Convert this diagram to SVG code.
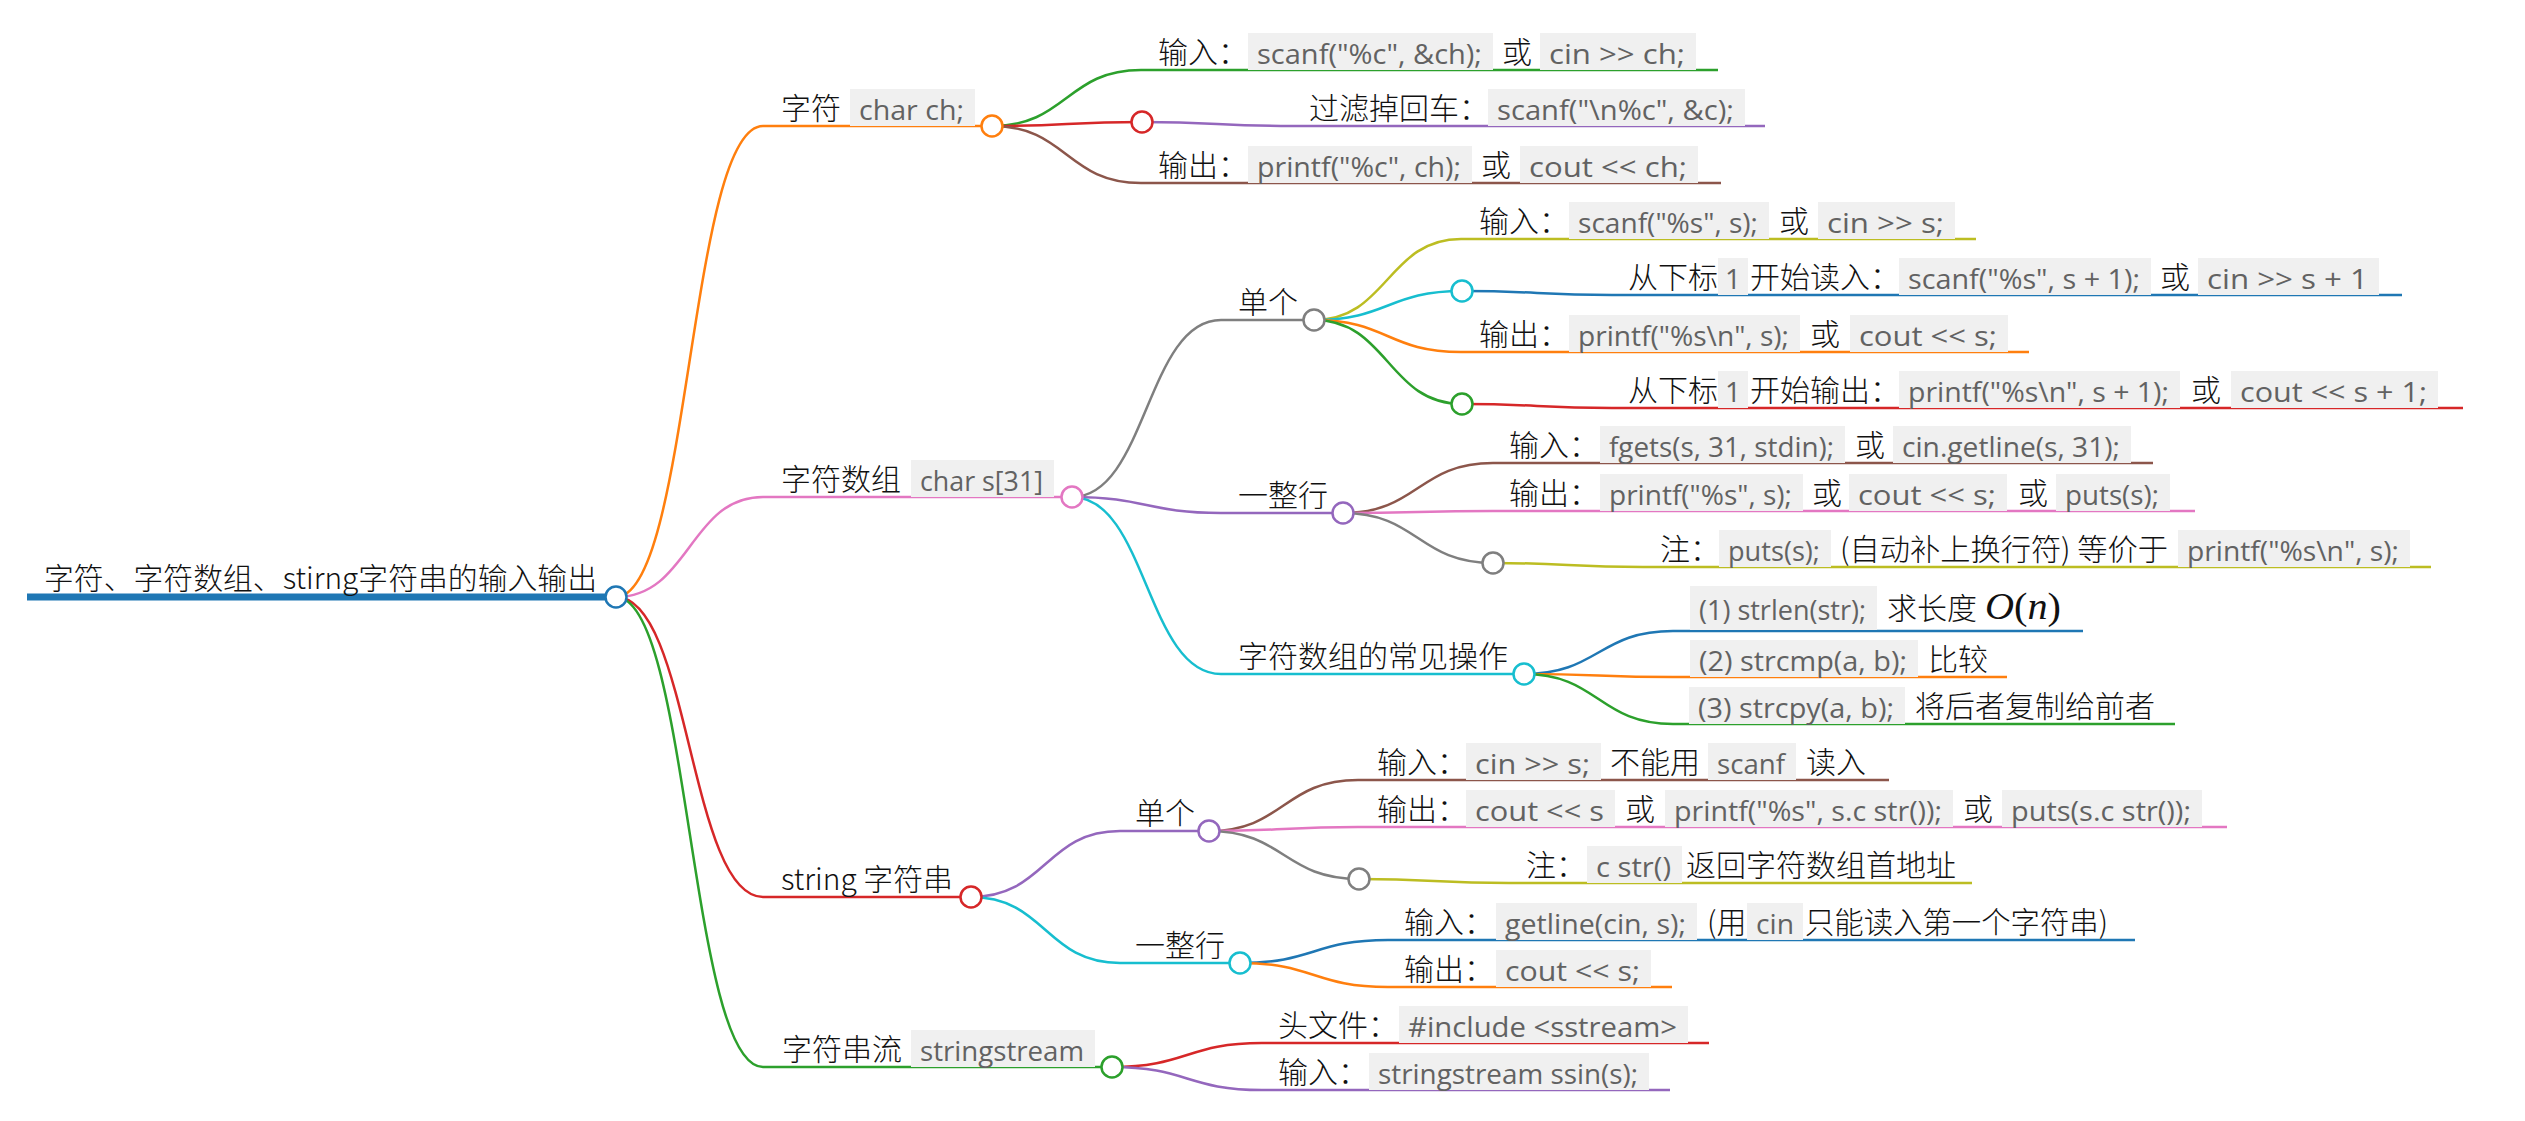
<svg xmlns="http://www.w3.org/2000/svg" width="2525" height="1121" viewBox="0 0 2525 1121">
<style>
.t{font-family:"Noto Sans CJK SC","Noto Sans",sans-serif;font-size:30px;font-weight:300;fill:#111}
.c{font-family:"Open Sans","Liberation Sans",sans-serif;font-size:28px;fill:#626262}
.b{fill:#f0f0f0}
.lk{fill:none;stroke-width:2.5}
.u{fill:none;stroke-width:2.5}
.dot{fill:#fff;stroke-width:2.5}
.m{font-family:"Liberation Serif",serif;font-size:38px;fill:#111}
</style>
<rect width="2525" height="1121" fill="#fff"/>
<g id="connectors">
<path class="lk" stroke="#ff7f0e" stroke-width="3" d="M616,597 C689.5,597 689.5,126 763,126"/>
<path class="lk" stroke="#e377c2" stroke-width="3" d="M616,597 C689.5,597 689.5,497 763,497"/>
<path class="lk" stroke="#d62728" stroke-width="3" d="M616,597 C689.5,597 689.5,897 763,897"/>
<path class="lk" stroke="#2ca02c" stroke-width="3" d="M616,597 C689.5,597 689.5,1067 763,1067"/>
<path class="lk" stroke="#2ca02c" d="M992,126 C1066.5,126 1066.5,70 1141,70"/>
<path class="lk" stroke="#d62728" d="M992,126 C1067,126 1067,122 1142,122"/>
<path class="lk" stroke="#8c564b" d="M992,126 C1066.5,126 1066.5,183 1141,183"/>
<path class="lk" stroke="#9467bd" d="M1142,122 C1217,122 1217,126 1292,126"/>
<path class="lk" stroke="#7f7f7f" d="M1072,497 C1146.5,497 1146.5,320 1221,320"/>
<path class="lk" stroke="#9467bd" d="M1072,497 C1146.5,497 1146.5,513 1221,513"/>
<path class="lk" stroke="#17becf" d="M1072,497 C1146.5,497 1146.5,674 1221,674"/>
<path class="lk" stroke="#bcbd22" d="M1314,320 C1387.5,320 1387.5,239 1461,239"/>
<path class="lk" stroke="#17becf" d="M1314,320 C1388,320 1388,291 1462,291"/>
<path class="lk" stroke="#ff7f0e" d="M1314,320 C1387.5,320 1387.5,352 1461,352"/>
<path class="lk" stroke="#2ca02c" d="M1314,320 C1388,320 1388,404 1462,404"/>
<path class="lk" stroke="#1f77b4" d="M1462,291 C1537,291 1537,295 1612,295"/>
<path class="lk" stroke="#d62728" d="M1462,404 C1537,404 1537,408 1612,408"/>
<path class="lk" stroke="#8c564b" d="M1343,513 C1418,513 1418,463 1493,463"/>
<path class="lk" stroke="#e377c2" d="M1343,513 C1418,513 1418,511 1493,511"/>
<path class="lk" stroke="#7f7f7f" d="M1343,513 C1418,513 1418,563 1493,563"/>
<path class="lk" stroke="#bcbd22" d="M1493,563 C1568,563 1568,567 1643,567"/>
<path class="lk" stroke="#1f77b4" d="M1524,674 C1598.5,674 1598.5,631 1673,631"/>
<path class="lk" stroke="#ff7f0e" d="M1524,674 C1598.5,674 1598.5,677 1673,677"/>
<path class="lk" stroke="#2ca02c" d="M1524,674 C1598.5,674 1598.5,724 1673,724"/>
<path class="lk" stroke="#9467bd" d="M971,897 C1045.5,897 1045.5,831 1120,831"/>
<path class="lk" stroke="#17becf" d="M971,897 C1045.5,897 1045.5,963 1120,963"/>
<path class="lk" stroke="#8c564b" d="M1209,831 C1283.5,831 1283.5,780 1358,780"/>
<path class="lk" stroke="#e377c2" d="M1209,831 C1283.5,831 1283.5,827 1358,827"/>
<path class="lk" stroke="#7f7f7f" d="M1209,831 C1284,831 1284,879 1359,879"/>
<path class="lk" stroke="#bcbd22" d="M1359,879 C1434,879 1434,883 1509,883"/>
<path class="lk" stroke="#1f77b4" d="M1240,963 C1314,963 1314,940 1388,940"/>
<path class="lk" stroke="#ff7f0e" d="M1240,963 C1314,963 1314,987 1388,987"/>
<path class="lk" stroke="#d62728" d="M1112,1067 C1187,1067 1187,1043 1262,1043"/>
<path class="lk" stroke="#9467bd" d="M1112,1067 C1187,1067 1187,1090 1262,1090"/>
</g>

<g id="root">
<path d="M27,597 H616" stroke="#1f77b4" stroke-width="7"/>
<text class="t" x="44" y="589" textLength="553" lengthAdjust="spacingAndGlyphs">字符、字符数组、stirng字符串的输入输出</text>
<circle class="dot" cx="616" cy="597" r="10.5" stroke="#1f77b4"/>
</g>

<g id="n-char">
<path class="u" d="M763,126 H992" stroke="#ff7f0e" stroke-width="3"/>
<text class="t" x="781" y="119">字符</text>
<rect class="b" x="850" y="89" width="125" height="37"/>
<text class="c" x="859" y="120" textLength="105" lengthAdjust="spacingAndGlyphs">char ch;</text>
<circle class="dot" cx="992" cy="126" r="10.5" stroke="#ff7f0e"/>
</g>
<g id="n-char-in">
<path class="u" d="M1141,70 H1718" stroke="#2ca02c"/>
<text class="t" x="1158" y="63">输入：</text>
<rect class="b" x="1248" y="33" width="245" height="37"/>
<text class="c" x="1257" y="64" textLength="225" lengthAdjust="spacingAndGlyphs">scanf("%c", &amp;ch);</text>
<text class="t" x="1502" y="63">或</text>
<rect class="b" x="1540" y="33" width="156" height="37"/>
<text class="c" x="1549" y="64" textLength="136" lengthAdjust="spacingAndGlyphs">cin &gt;&gt; ch;</text>
</g>
<g id="n-char-empty">
<circle class="dot" cx="1142" cy="122" r="10.5" stroke="#d62728"/>
</g>
<g id="n-char-filter">
<path class="u" d="M1292,126 H1765" stroke="#9467bd"/>
<text class="t" x="1309" y="119">过滤掉回车：</text>
<rect class="b" x="1488" y="89" width="257" height="37"/>
<text class="c" x="1497" y="120" textLength="237" lengthAdjust="spacingAndGlyphs">scanf("\n%c", &amp;c);</text>
</g>
<g id="n-char-out">
<path class="u" d="M1141,183 H1721" stroke="#8c564b"/>
<text class="t" x="1158" y="176">输出：</text>
<rect class="b" x="1248" y="146" width="224" height="37"/>
<text class="c" x="1257" y="177" textLength="204" lengthAdjust="spacingAndGlyphs">printf("%c", ch);</text>
<text class="t" x="1481" y="176">或</text>
<rect class="b" x="1520" y="146" width="178" height="37"/>
<text class="c" x="1529" y="177" textLength="158" lengthAdjust="spacingAndGlyphs">cout &lt;&lt; ch;</text>
</g>

<g id="n-arr">
<path class="u" d="M763,497 H1072" stroke="#e377c2" stroke-width="3"/>
<text class="t" x="781" y="490">字符数组</text>
<rect class="b" x="911" y="460" width="143" height="37"/>
<text class="c" x="920" y="491" textLength="123" lengthAdjust="spacingAndGlyphs">char s[31]</text>
<circle class="dot" cx="1072" cy="497" r="10.5" stroke="#e377c2"/>
</g>
<g id="n-arr-single">
<path class="u" d="M1221,320 H1314" stroke="#7f7f7f"/>
<text class="t" x="1238" y="313">单个</text>
<circle class="dot" cx="1314" cy="320" r="10.5" stroke="#7f7f7f"/>
</g>
<g id="n-arr-single-in">
<path class="u" d="M1461,239 H1976" stroke="#bcbd22"/>
<text class="t" x="1479" y="232">输入：</text>
<rect class="b" x="1569" y="202" width="200" height="37"/>
<text class="c" x="1578" y="233" textLength="180" lengthAdjust="spacingAndGlyphs">scanf("%s", s);</text>
<text class="t" x="1779" y="232">或</text>
<rect class="b" x="1818" y="202" width="137" height="37"/>
<text class="c" x="1827" y="233" textLength="117" lengthAdjust="spacingAndGlyphs">cin &gt;&gt; s;</text>
</g>
<g id="n-arr-single-empty1">
<circle class="dot" cx="1462" cy="291" r="10.5" stroke="#17becf"/>
</g>
<g id="n-arr-single-in1">
<path class="u" d="M1612,295 H2402" stroke="#1f77b4"/>
<text class="t" x="1628" y="288">从下标</text>
<rect class="b" x="1718" y="258" width="30" height="37"/>
<text class="c" x="1733" y="289" text-anchor="middle">1</text>
<text class="t" x="1750" y="288">开始读入：</text>
<rect class="b" x="1899" y="258" width="252" height="37"/>
<text class="c" x="1908" y="289" textLength="232" lengthAdjust="spacingAndGlyphs">scanf("%s", s + 1);</text>
<text class="t" x="2160" y="288">或</text>
<rect class="b" x="2198" y="258" width="181" height="37"/>
<text class="c" x="2207" y="289" textLength="161" lengthAdjust="spacingAndGlyphs">cin &gt;&gt; s + 1</text>
</g>
<g id="n-arr-single-out">
<path class="u" d="M1461,352 H2029" stroke="#ff7f0e"/>
<text class="t" x="1479" y="345">输出：</text>
<rect class="b" x="1569" y="315" width="231" height="37"/>
<text class="c" x="1578" y="346" textLength="211" lengthAdjust="spacingAndGlyphs">printf("%s\n", s);</text>
<text class="t" x="1810" y="345">或</text>
<rect class="b" x="1850" y="315" width="158" height="37"/>
<text class="c" x="1859" y="346" textLength="138" lengthAdjust="spacingAndGlyphs">cout &lt;&lt; s;</text>
</g>
<g id="n-arr-single-empty2">
<circle class="dot" cx="1462" cy="404" r="10.5" stroke="#2ca02c"/>
</g>
<g id="n-arr-single-out1">
<path class="u" d="M1612,408 H2463" stroke="#d62728"/>
<text class="t" x="1628" y="401">从下标</text>
<rect class="b" x="1718" y="371" width="30" height="37"/>
<text class="c" x="1733" y="402" text-anchor="middle">1</text>
<text class="t" x="1750" y="401">开始输出：</text>
<rect class="b" x="1899" y="371" width="281" height="37"/>
<text class="c" x="1908" y="402" textLength="261" lengthAdjust="spacingAndGlyphs">printf("%s\n", s + 1);</text>
<text class="t" x="2191" y="401">或</text>
<rect class="b" x="2231" y="371" width="207" height="37"/>
<text class="c" x="2240" y="402" textLength="187" lengthAdjust="spacingAndGlyphs">cout &lt;&lt; s + 1;</text>
</g>
<g id="n-arr-line">
<path class="u" d="M1221,513 H1343" stroke="#9467bd"/>
<text class="t" x="1238" y="506">一整行</text>
<circle class="dot" cx="1343" cy="513" r="10.5" stroke="#9467bd"/>
</g>
<g id="n-arr-line-in">
<path class="u" d="M1493,463 H2153" stroke="#8c564b"/>
<text class="t" x="1509" y="456">输入：</text>
<rect class="b" x="1600" y="426" width="245" height="37"/>
<text class="c" x="1609" y="457" textLength="225" lengthAdjust="spacingAndGlyphs">fgets(s, 31, stdin);</text>
<text class="t" x="1855" y="456">或</text>
<rect class="b" x="1893" y="426" width="238" height="37"/>
<text class="c" x="1902" y="457" textLength="218" lengthAdjust="spacingAndGlyphs">cin.getline(s, 31);</text>
</g>
<g id="n-arr-line-out">
<path class="u" d="M1493,511 H2195" stroke="#e377c2"/>
<text class="t" x="1509" y="504">输出：</text>
<rect class="b" x="1600" y="474" width="203" height="37"/>
<text class="c" x="1609" y="505" textLength="183" lengthAdjust="spacingAndGlyphs">printf("%s", s);</text>
<text class="t" x="1812" y="504">或</text>
<rect class="b" x="1849" y="474" width="158" height="37"/>
<text class="c" x="1858" y="505" textLength="138" lengthAdjust="spacingAndGlyphs">cout &lt;&lt; s;</text>
<text class="t" x="2018" y="504">或</text>
<rect class="b" x="2056" y="474" width="114" height="37"/>
<text class="c" x="2065" y="505" textLength="94" lengthAdjust="spacingAndGlyphs">puts(s);</text>
</g>
<g id="n-arr-line-empty">
<circle class="dot" cx="1493" cy="563" r="10.5" stroke="#7f7f7f"/>
</g>
<g id="n-arr-line-note">
<path class="u" d="M1643,567 H2431" stroke="#bcbd22"/>
<text class="t" x="1660" y="560">注：</text>
<rect class="b" x="1719" y="530" width="112" height="37"/>
<text class="c" x="1728" y="561" textLength="92" lengthAdjust="spacingAndGlyphs">puts(s);</text>
<text class="t" x="1840" y="560" textLength="328" lengthAdjust="spacingAndGlyphs">(自动补上换行符) 等价于</text>
<rect class="b" x="2178" y="530" width="232" height="37"/>
<text class="c" x="2187" y="561" textLength="212" lengthAdjust="spacingAndGlyphs">printf("%s\n", s);</text>
</g>
<g id="n-arr-ops">
<path class="u" d="M1221,674 H1524" stroke="#17becf"/>
<text class="t" x="1238" y="667">字符数组的常见操作</text>
<circle class="dot" cx="1524" cy="674" r="10.5" stroke="#17becf"/>
</g>
<g id="n-arr-ops-1">
<path class="u" d="M1673,631 H2083" stroke="#1f77b4"/>
<rect class="b" x="1690" y="586" width="187" height="44"/>
<text class="c" x="1699" y="620" textLength="167" lengthAdjust="spacingAndGlyphs">(1) strlen(str);</text>
<text class="t" x="1887" y="619">求长度</text>
<text class="m" x="1985" y="619" textLength="76" lengthAdjust="spacingAndGlyphs"><tspan font-style="italic">O</tspan>(<tspan font-style="italic">n</tspan>)</text>
</g>
<g id="n-arr-ops-2">
<path class="u" d="M1673,677 H2007" stroke="#ff7f0e"/>
<rect class="b" x="1690" y="640" width="228" height="37"/>
<text class="c" x="1699" y="671" textLength="208" lengthAdjust="spacingAndGlyphs">(2) strcmp(a, b);</text>
<text class="t" x="1928" y="670">比较</text>
</g>
<g id="n-arr-ops-3">
<path class="u" d="M1673,724 H2175" stroke="#2ca02c"/>
<rect class="b" x="1689" y="687" width="216" height="37"/>
<text class="c" x="1698" y="718" textLength="196" lengthAdjust="spacingAndGlyphs">(3) strcpy(a, b);</text>
<text class="t" x="1915" y="717">将后者复制给前者</text>
</g>

<g id="n-str">
<path class="u" d="M763,897 H971" stroke="#d62728" stroke-width="3"/>
<text class="t" x="781" y="890" textLength="172" lengthAdjust="spacingAndGlyphs">string 字符串</text>
<circle class="dot" cx="971" cy="897" r="10.5" stroke="#d62728"/>
</g>
<g id="n-str-single">
<path class="u" d="M1120,831 H1209" stroke="#9467bd"/>
<text class="t" x="1135" y="824">单个</text>
<circle class="dot" cx="1209" cy="831" r="10.5" stroke="#9467bd"/>
</g>
<g id="n-str-single-in">
<path class="u" d="M1358,780 H1889" stroke="#8c564b"/>
<text class="t" x="1377" y="773">输入：</text>
<rect class="b" x="1466" y="743" width="135" height="37"/>
<text class="c" x="1475" y="774" textLength="115" lengthAdjust="spacingAndGlyphs">cin &gt;&gt; s;</text>
<text class="t" x="1610" y="773">不能用</text>
<rect class="b" x="1708" y="743" width="88" height="37"/>
<text class="c" x="1717" y="774" textLength="68" lengthAdjust="spacingAndGlyphs">scanf</text>
<text class="t" x="1806" y="773">读入</text>
</g>
<g id="n-str-single-out">
<path class="u" d="M1358,827 H2227" stroke="#e377c2"/>
<text class="t" x="1377" y="820">输出：</text>
<rect class="b" x="1466" y="790" width="149" height="37"/>
<text class="c" x="1475" y="821" textLength="129" lengthAdjust="spacingAndGlyphs">cout &lt;&lt; s</text>
<text class="t" x="1625" y="820">或</text>
<rect class="b" x="1665" y="790" width="288" height="37"/>
<text class="c" x="1674" y="821" textLength="268" lengthAdjust="spacingAndGlyphs">printf("%s", s.c str());</text>
<text class="t" x="1963" y="820">或</text>
<rect class="b" x="2002" y="790" width="200" height="37"/>
<text class="c" x="2011" y="821" textLength="180" lengthAdjust="spacingAndGlyphs">puts(s.c str());</text>
</g>
<g id="n-str-single-empty">
<circle class="dot" cx="1359" cy="879" r="10.5" stroke="#7f7f7f"/>
</g>
<g id="n-str-single-note">
<path class="u" d="M1509,883 H1972" stroke="#bcbd22"/>
<text class="t" x="1526" y="876">注：</text>
<rect class="b" x="1587" y="846" width="95" height="37"/>
<text class="c" x="1596" y="877" textLength="75" lengthAdjust="spacingAndGlyphs">c str()</text>
<text class="t" x="1686" y="876">返回字符数组首地址</text>
</g>
<g id="n-str-line">
<path class="u" d="M1120,963 H1240" stroke="#17becf"/>
<text class="t" x="1135" y="956">一整行</text>
<circle class="dot" cx="1240" cy="963" r="10.5" stroke="#17becf"/>
</g>
<g id="n-str-line-in">
<path class="u" d="M1388,940 H2135" stroke="#1f77b4"/>
<text class="t" x="1404" y="933">输入：</text>
<rect class="b" x="1496" y="903" width="201" height="37"/>
<text class="c" x="1505" y="934" textLength="181" lengthAdjust="spacingAndGlyphs">getline(cin, s);</text>
<text class="t" x="1707" y="933">(用</text>
<rect class="b" x="1747" y="903" width="56" height="37"/>
<text class="c" x="1756" y="934" textLength="38" lengthAdjust="spacingAndGlyphs">cin</text>
<text class="t" x="1805" y="933" textLength="303" lengthAdjust="spacingAndGlyphs">只能读入第一个字符串)</text>
</g>
<g id="n-str-line-out">
<path class="u" d="M1388,987 H1672" stroke="#ff7f0e"/>
<text class="t" x="1404" y="980">输出：</text>
<rect class="b" x="1496" y="950" width="155" height="37"/>
<text class="c" x="1505" y="981" textLength="135" lengthAdjust="spacingAndGlyphs">cout &lt;&lt; s;</text>
</g>

<g id="n-ss">
<path class="u" d="M763,1067 H1112" stroke="#2ca02c" stroke-width="3"/>
<text class="t" x="782" y="1060">字符串流</text>
<rect class="b" x="911" y="1030" width="184" height="37"/>
<text class="c" x="920" y="1061" textLength="164" lengthAdjust="spacingAndGlyphs">stringstream</text>
<circle class="dot" cx="1112" cy="1067" r="10.5" stroke="#2ca02c"/>
</g>
<g id="n-ss-head">
<path class="u" d="M1262,1043 H1709" stroke="#d62728"/>
<text class="t" x="1278" y="1036">头文件：</text>
<rect class="b" x="1399" y="1006" width="289" height="37"/>
<text class="c" x="1408" y="1037" textLength="269" lengthAdjust="spacingAndGlyphs">#include &lt;sstream&gt;</text>
</g>
<g id="n-ss-in">
<path class="u" d="M1262,1090 H1670" stroke="#9467bd"/>
<text class="t" x="1278" y="1083">输入：</text>
<rect class="b" x="1369" y="1053" width="280" height="37"/>
<text class="c" x="1378" y="1084" textLength="260" lengthAdjust="spacingAndGlyphs">stringstream ssin(s);</text>
</g>
</svg>
